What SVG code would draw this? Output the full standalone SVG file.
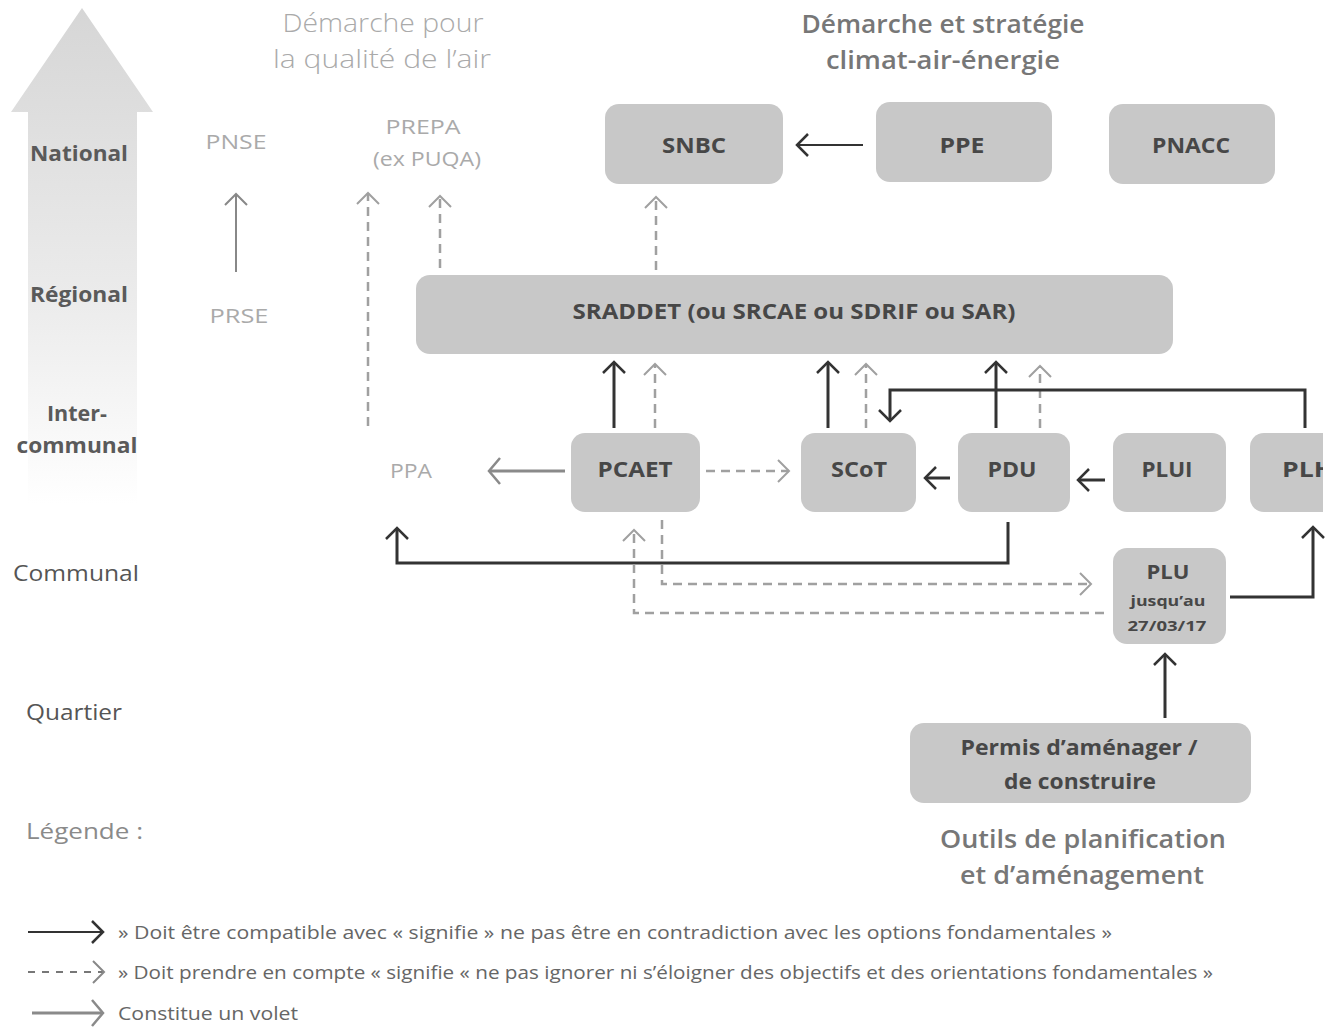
<svg xmlns="http://www.w3.org/2000/svg" width="1332" height="1029" viewBox="0 0 1332 1029">
<style>
text{font-family:"Open Sans","DejaVu Sans",sans-serif}
.node{fill:#c8c8c8}
.nt{font-size:22px;font-weight:bold;fill:#474747;text-anchor:middle}
.lvl{font-size:22px;font-weight:bold;fill:#5a5a5a;text-anchor:middle}
.lvr{font-size:21px;fill:#555;text-anchor:middle}
.air{font-size:20px;fill:#aaa;text-anchor:middle}
.ttl{font-size:25px;fill:#777;text-anchor:middle;font-weight:600}
.ttl2{font-size:26px;fill:#aaa;text-anchor:middle;font-weight:300}
.leg{font-size:18px;fill:#666}
.solid{fill:none;stroke:#333;stroke-width:3}
.thin{fill:none;stroke:#333;stroke-width:2}
.dash{fill:none;stroke:#a0a0a0;stroke-width:2.5;stroke-dasharray:9 6}
.volet{fill:none;stroke:#8a8a8a;stroke-width:3}
.envi{fill:none;stroke:#888;stroke-width:2}
</style>
<defs>
<linearGradient id="bigArrow" x1="0" y1="0" x2="0" y2="1">
<stop offset="0" stop-color="#d6d6d6"/>
<stop offset="0.6" stop-color="#ececec"/>
<stop offset="1" stop-color="#ffffff"/>
</linearGradient>
<marker id="mDark" markerUnits="userSpaceOnUse" markerWidth="16" markerHeight="24" refX="13" refY="12" orient="auto">
<path d="M2,1 L13,12 L2,23" fill="none" stroke="#333" stroke-width="2.5"/>
</marker>
<marker id="mGray" markerUnits="userSpaceOnUse" markerWidth="16" markerHeight="24" refX="13" refY="12" orient="auto">
<path d="M2,1 L13,12 L2,23" fill="none" stroke="#a0a0a0" stroke-width="2"/>
</marker>
<marker id="mVolet" markerUnits="userSpaceOnUse" markerWidth="16" markerHeight="28" refX="13" refY="14" orient="auto">
<path d="M2,1 L13,14 L2,27" fill="none" stroke="#8a8a8a" stroke-width="2.5"/>
</marker>
<marker id="mEnv" markerUnits="userSpaceOnUse" markerWidth="16" markerHeight="24" refX="13" refY="12" orient="auto">
<path d="M2,1 L13,12 L2,23" fill="none" stroke="#888" stroke-width="2"/>
</marker>
<clipPath id="clipR"><rect x="0" y="0" width="1323" height="1029"/></clipPath>
</defs>
<rect width="1332" height="1029" fill="#fff"/>

<g id="scale-arrow">
<polygon points="82,8 153,112 137,112 137,505 28,505 28,112 11,112" fill="url(#bigArrow)"/>
</g>

<g id="levels">
<text class="lvl" x="79" y="161" textLength="98" lengthAdjust="spacingAndGlyphs">National</text>
<text class="lvl" x="79" y="302" textLength="98" lengthAdjust="spacingAndGlyphs">Régional</text>
<text class="lvl" x="77" y="421" textLength="60" lengthAdjust="spacingAndGlyphs">Inter-</text>
<text class="lvl" x="77" y="453" textLength="121" lengthAdjust="spacingAndGlyphs">communal</text>
<text class="lvr" x="76" y="581" textLength="126" lengthAdjust="spacingAndGlyphs">Communal</text>
<text class="lvr" x="74" y="720" textLength="96" lengthAdjust="spacingAndGlyphs">Quartier</text>
<text x="26" y="839" font-size="21" fill="#8a8a8a" textLength="117" lengthAdjust="spacingAndGlyphs">Légende :</text>
</g>

<g id="titles">
<text class="ttl2" x="383" y="32" textLength="201" lengthAdjust="spacingAndGlyphs">Démarche pour</text>
<text class="ttl2" x="382" y="68" textLength="218" lengthAdjust="spacingAndGlyphs">la qualité de l’air</text>
<text class="ttl" x="943" y="33" textLength="283" lengthAdjust="spacingAndGlyphs">Démarche et stratégie</text>
<text class="ttl" x="943" y="69" textLength="234" lengthAdjust="spacingAndGlyphs">climat-air-énergie</text>
<text class="ttl" x="1083" y="848" textLength="286" lengthAdjust="spacingAndGlyphs">Outils de planification</text>
<text class="ttl" x="1082" y="884" textLength="244" lengthAdjust="spacingAndGlyphs">et d’aménagement</text>
</g>

<g id="PNSE"><text class="air" x="236" y="149" textLength="61" lengthAdjust="spacingAndGlyphs">PNSE</text></g>
<g id="PRSE"><text class="air" x="239" y="323" textLength="59" lengthAdjust="spacingAndGlyphs">PRSE</text></g>
<g id="PREPA">
<text class="air" x="423" y="134" textLength="75" lengthAdjust="spacingAndGlyphs">PREPA</text>
<text class="air" x="427" y="166" textLength="108" lengthAdjust="spacingAndGlyphs">(ex PUQA)</text>
</g>
<g id="PPA"><text class="air" x="411" y="478" textLength="42" lengthAdjust="spacingAndGlyphs">PPA</text></g>

<g id="SNBC"><rect class="node" x="605" y="104" width="178" height="80" rx="14"/><text class="nt" x="694" y="153" textLength="64" lengthAdjust="spacingAndGlyphs">SNBC</text></g>
<g id="PPE"><rect class="node" x="876" y="102" width="176" height="80" rx="14"/><text class="nt" x="962" y="153" textLength="45" lengthAdjust="spacingAndGlyphs">PPE</text></g>
<g id="PNACC"><rect class="node" x="1109" y="104" width="166" height="80" rx="14"/><text class="nt" x="1191" y="153" textLength="78" lengthAdjust="spacingAndGlyphs">PNACC</text></g>
<g id="SRADDET"><rect class="node" x="416" y="275" width="757" height="79" rx="14"/><text class="nt" x="794" y="319" textLength="443" lengthAdjust="spacingAndGlyphs">SRADDET (ou SRCAE ou SDRIF ou SAR)</text></g>
<g id="PCAET"><rect class="node" x="571" y="433" width="129" height="79" rx="14"/><text class="nt" x="635" y="477" textLength="75" lengthAdjust="spacingAndGlyphs">PCAET</text></g>
<g id="SCoT"><rect class="node" x="801" y="433" width="115" height="79" rx="14"/><text class="nt" x="859" y="477" textLength="56" lengthAdjust="spacingAndGlyphs">SCoT</text></g>
<g id="PDU"><rect class="node" x="958" y="433" width="112" height="79" rx="14"/><text class="nt" x="1012" y="477" textLength="49" lengthAdjust="spacingAndGlyphs">PDU</text></g>
<g id="PLUI"><rect class="node" x="1113" y="433" width="113" height="79" rx="14"/><text class="nt" x="1167" y="477" textLength="51" lengthAdjust="spacingAndGlyphs">PLUI</text></g>
<g id="PLH" clip-path="url(#clipR)"><rect class="node" x="1250" y="433" width="120" height="79" rx="14"/><text class="nt" x="1282" y="477" style="text-anchor:start" textLength="52" lengthAdjust="spacingAndGlyphs">PLH</text></g>
<g id="PLU"><rect class="node" x="1113" y="548" width="113" height="96" rx="14"/>
<text class="nt" x="1168" y="579" font-size="20" style="font-size:20px" textLength="43" lengthAdjust="spacingAndGlyphs">PLU</text>
<text class="nt" x="1168" y="606" style="font-size:14px" textLength="75" lengthAdjust="spacingAndGlyphs">jusqu’au</text>
<text class="nt" x="1167" y="631" style="font-size:14px" textLength="79" lengthAdjust="spacingAndGlyphs">27/03/17</text>
</g>
<g id="Permis"><rect class="node" x="910" y="723" width="341" height="80" rx="14"/>
<text class="nt" x="1079" y="755" textLength="237" lengthAdjust="spacingAndGlyphs">Permis d’aménager /</text>
<text class="nt" x="1080" y="789" textLength="152" lengthAdjust="spacingAndGlyphs">de construire</text>
</g>

<g id="connectors">
<line class="envi" x1="236" y1="272" x2="236" y2="194" marker-end="url(#mEnv)"/>
<line class="thin" x1="863" y1="145" x2="797" y2="145" marker-end="url(#mDark)"/>
<line class="dash" x1="656" y1="270" x2="656" y2="197" marker-end="url(#mGray)"/>
<line class="dash" x1="440" y1="268" x2="440" y2="196" marker-end="url(#mGray)"/>
<line class="dash" x1="368" y1="426" x2="368" y2="193" marker-end="url(#mGray)"/>
<line class="solid" x1="614" y1="428" x2="614" y2="362" marker-end="url(#mDark)"/>
<line class="dash" x1="655" y1="428" x2="655" y2="364" marker-end="url(#mGray)"/>
<line class="solid" x1="828" y1="428" x2="828" y2="362" marker-end="url(#mDark)"/>
<line class="dash" x1="866" y1="428" x2="866" y2="364" marker-end="url(#mGray)"/>
<line class="solid" x1="996" y1="428" x2="996" y2="362" marker-end="url(#mDark)"/>
<line class="dash" x1="1040" y1="428" x2="1040" y2="366" marker-end="url(#mGray)"/>
<polyline class="solid" points="1305,428 1305,390 890,390 890,421" marker-end="url(#mDark)"/>
<line class="volet" x1="565" y1="471" x2="489" y2="471" marker-end="url(#mVolet)"/>
<line class="dash" x1="706" y1="471" x2="789" y2="471" marker-end="url(#mGray)"/>
<line class="solid" x1="950" y1="478" x2="925" y2="478" marker-end="url(#mDark)"/>
<line class="solid" x1="1105" y1="480" x2="1078" y2="480" marker-end="url(#mDark)"/>
<polyline class="solid" points="1008,522 1008,563 397,563 397,528" marker-end="url(#mDark)"/>
<polyline class="solid" points="1230,597 1313,597 1313,527" marker-end="url(#mDark)"/>
<polyline class="dash" points="662,520 662,584 1091,584" marker-end="url(#mGray)"/>
<polyline class="dash" points="1104,613 634,613 634,530" marker-end="url(#mGray)"/>
<line class="solid" x1="1165" y1="718" x2="1165" y2="654" marker-end="url(#mDark)"/>
</g>

<g id="legend">
<line class="thin" x1="28" y1="932" x2="103" y2="932" marker-end="url(#mDark)"/>
<text class="leg" x="118" y="939" textLength="994" lengthAdjust="spacingAndGlyphs">» Doit être compatible avec « signifie » ne pas être en contradiction avec les options fondamentales »</text>
<line x1="28" y1="972" x2="104" y2="972" stroke="#777" stroke-width="2" stroke-dasharray="7 7" marker-end="url(#mEnv)"/>
<text class="leg" x="118" y="979" textLength="1095" lengthAdjust="spacingAndGlyphs">» Doit prendre en compte « signifie « ne pas ignorer ni s’éloigner des objectifs et des orientations fondamentales »</text>
<line class="volet" x1="32" y1="1013" x2="103" y2="1013" marker-end="url(#mVolet)"/>
<text class="leg" x="118" y="1020" textLength="180" lengthAdjust="spacingAndGlyphs">Constitue un volet</text>
</g>
</svg>
